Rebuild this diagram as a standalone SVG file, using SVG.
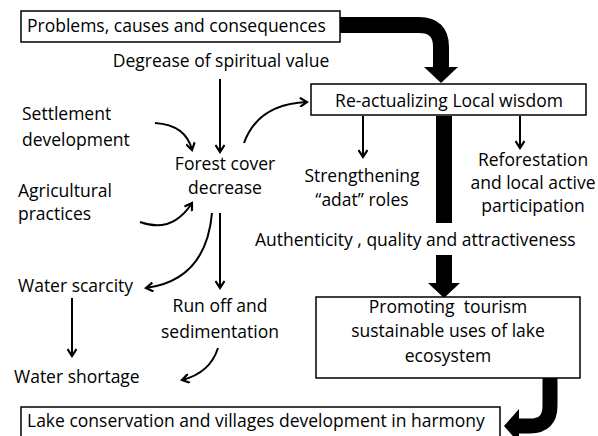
<svg xmlns="http://www.w3.org/2000/svg" width="598" height="436" viewBox="0 0 598 436">
<defs>
<marker id="ah" markerWidth="10" markerHeight="10" refX="8" refY="5" orient="auto" markerUnits="userSpaceOnUse">
<polyline points="1,0.5 8,5 1,9.5" fill="none" stroke="#000" stroke-width="2.2"/>
</marker>
<style>
text{font-family:"Open Sans","Liberation Sans",sans-serif;font-size:17.5px;fill:#000;white-space:pre}
.c{text-anchor:middle}
.box{fill:#fff;stroke:#000;stroke-width:1.5}
.thin{fill:none;stroke:#000;stroke-width:2;marker-end:url(#ah)}
.thick{fill:none;stroke:#000;stroke-width:16}
</style>
</defs>
<rect width="598" height="436" fill="#fff"/>
<g id="connectors">
<path class="thick" d="M340,25 H419 Q441,25 441,47 V68"/>
<polygon points="424,67 458,67 441,83"/>
<rect x="436" y="116" width="16" height="107"/>
<rect x="436" y="255" width="16" height="29"/>
<polygon points="428,283 460,283 444,298"/>
<path class="thick" d="M550,378 V406 Q550,426 530,426 H518" style="stroke-width:15"/>
<polygon points="519,409 519,443 504,426"/>
<path class="thin" d="M220,79 V152"/>
<path class="thin" d="M155,123 Q186,125 192,150"/>
<path class="thin" d="M244,143 Q258,104 307,102"/>
<path class="thin" d="M140,222 Q172,234 192,203"/>
<path class="thin" d="M212,213 Q206,280 146,288"/>
<path class="thin" d="M220,213 V288"/>
<path class="thin" d="M72,298 V356"/>
<path class="thin" d="M218,348 Q210,373 182,380"/>
<path class="thin" d="M363,116 V157"/>
<path class="thin" d="M520,116 V148"/>
</g>
<g id="problems">
<rect class="box" x="21" y="11" width="319" height="31"/>
<text x="27" y="32">Problems, causes and consequences</text>
</g>
<g id="spiritual"><text class="c" x="221" y="67">Degrease of spiritual value</text></g>
<g id="reactualizing">
<rect class="box" x="311" y="84" width="275" height="31"/>
<text class="c" x="449" y="107">Re-actualizing Local wisdom</text>
</g>
<g id="settlement"><text x="22" y="120">Settlement</text><text x="22" y="146">development</text></g>
<g id="forest"><text class="c" x="225" y="170">Forest cover</text><text class="c" x="225" y="194">decrease</text></g>
<g id="strengthening"><text class="c" x="362" y="182">Strengthening</text><text class="c" x="362" y="206">“adat” roles</text></g>
<g id="reforestation"><text class="c" x="533" y="166">Reforestation</text><text class="c" x="533" y="189">and local active</text><text class="c" x="533" y="212">participation</text></g>
<g id="agricultural"><text x="18" y="197">Agricultural</text><text x="18" y="220">practices</text></g>
<g id="authenticity"><text x="255" y="246">Authenticity , quality and attractiveness</text></g>
<g id="waterscarcity"><text x="18" y="292">Water scarcity</text></g>
<g id="runoff"><text class="c" x="220" y="312">Run off and</text><text class="c" x="220" y="338">sedimentation</text></g>
<g id="watershortage"><text x="14" y="383">Water shortage</text></g>
<g id="promoting">
<rect class="box" x="316" y="297" width="264" height="81"/>
<text class="c" x="448" y="313">Promoting  tourism</text>
<text class="c" x="448" y="337">sustainable uses of lake</text>
<text class="c" x="448" y="362">ecosystem</text>
</g>
<g id="lake">
<rect class="box" x="21" y="407" width="479" height="40"/>
<text x="27" y="427">Lake conservation and villages development in harmony</text>
</g>
</svg>
